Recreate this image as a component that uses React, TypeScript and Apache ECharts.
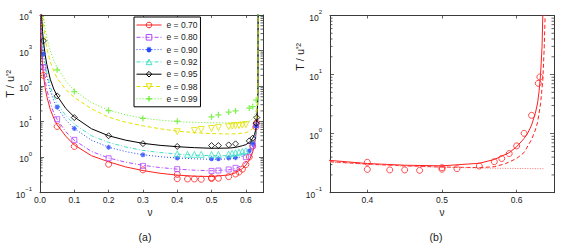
import React, { useEffect, useRef } from "react";
import * as echarts from "echarts";

const FONT = "'Liberation Sans', Arial, Helvetica, sans-serif";
const TXT = "#1a1a1a";
const AXIS = "#3a3a3a";

// ---------- panel (a) ----------
const seriesNames = ["e = 0.70", "e = 0.80", "e = 0.90", "e = 0.92", "e = 0.95", "e = 0.98", "e = 0.99"];
const seriesColors = ["#ff2020", "#b24cff", "#2448ff", "#40e0c4", "#000000", "#e2e200", "#62ee26"];

// theory curves (shared v grid)
const curveV = [0.001, 0.002, 0.003, 0.005, 0.0075, 0.01, 0.015, 0.02, 0.03, 0.04, 0.05, 0.075, 0.1, 0.15, 0.2, 0.25, 0.3, 0.35, 0.4, 0.45, 0.5, 0.55, 0.57, 0.59, 0.6, 0.61, 0.615, 0.62, 0.625, 0.628, 0.63, 0.632, 0.634, 0.635, 0.636];
const curve070 = [20000, 5000, 2250, 810, 360, 205, 90, 50, 22, 12.5, 8.1, 3.9, 2.2, 1.1, 0.74, 0.53, 0.42, 0.352, 0.312, 0.292, 0.285, 0.315, 0.365, 0.475, 0.6, 0.83, 1.03, 1.4, 2.2, 3.3, 5.2, 10, 30, 100, 20000];
const curve080 = [42800, 10000, 4250, 1460, 620, 340, 145, 79, 33.5, 18, 11.5, 5.2, 3.0, 1.45, 0.95, 0.72, 0.59, 0.51, 0.46, 0.43, 0.415, 0.44, 0.48, 0.6, 0.72, 0.95, 1.18, 1.55, 2.3, 3.2, 4.8, 8.5, 24, 70, 20000];
const curve090 = [113000, 25500, 10600, 3550, 1490, 800, 335, 180, 73, 39, 25, 11.2, 6.4, 3.0, 1.9, 1.43, 1.17, 1.03, 0.95, 0.9, 0.87, 0.89, 0.93, 1.05, 1.15, 1.38, 1.6, 2.0, 2.8, 3.8, 5.5, 9, 22, 60, 20000];
const curve092 = [166000, 36600, 15200, 4980, 2060, 1100, 455, 243, 96, 51, 33, 14.8, 8.5, 4.0, 2.6, 1.93, 1.55, 1.35, 1.22, 1.14, 1.1, 1.1, 1.14, 1.27, 1.38, 1.62, 1.85, 2.25, 3.1, 4.1, 5.8, 9.5, 23, 60, 20000];
const curve095 = [300000, 63000, 26000, 8400, 3440, 1850, 760, 400, 155, 83, 53, 23.5, 13.5, 6.3, 4.0, 3.0, 2.45, 2.15, 1.97, 1.85, 1.78, 1.8, 1.88, 2.1, 2.25, 2.6, 2.95, 3.4, 4.3, 5.5, 7.5, 11, 25, 60, 20000];
const curve098 = [900000, 200000, 80000, 26000, 10800, 5730, 2350, 1140, 485, 270, 166, 80, 48, 23, 13.3, 9.6, 7.6, 6.3, 5.4, 4.9, 4.6, 4.5, 4.55, 4.75, 4.9, 5.3, 5.8, 6.5, 8, 9.5, 12, 17, 35, 90, 20000];
const curve099 = [1200000, 280000, 120000, 41000, 17800, 9700, 4130, 2260, 964, 530, 330, 141, 75, 34, 21, 15.5, 12.5, 11, 10, 9.5, 9.3, 9.2, 9.3, 9.5, 9.6, 10.3, 11, 12.5, 15, 18, 22, 30, 55, 130, 20000];
const curves = [curve070, curve080, curve090, curve092, curve095, curve098, curve099];

// measured points
const dataV070 = [0.01, 0.05, 0.1, 0.2, 0.3, 0.4, 0.4, 0.43, 0.45, 0.47, 0.5, 0.5, 0.52, 0.55, 0.57, 0.58, 0.59, 0.6, 0.61, 0.62, 0.629, 0.631];
const dataT070 = [200, 7.3, 2.0, 0.63, 0.44, 0.327, 0.248, 0.243, 0.243, 0.239, 0.265, 0.25, 0.255, 0.283, 0.335, 0.38, 0.46, 0.62, 1.01, 2.04, 7.1, 9.1];
const dataV080 = [0.01, 0.05, 0.1, 0.2, 0.3, 0.4, 0.5, 0.52, 0.55, 0.57, 0.6, 0.62, 0.63];
const dataT080 = [340, 11.7, 3.07, 0.93, 0.57, 0.46, 0.41, 0.42, 0.45, 0.5, 1.0, 2.1, 8];
const dataV090 = [0.01, 0.05, 0.1, 0.2, 0.3, 0.4, 0.5, 0.52, 0.55, 0.57, 0.61, 0.62, 0.63];
const dataT090 = [805, 25.5, 6.4, 1.9, 1.16, 0.94, 0.9, 0.9, 0.95, 0.97, 1.5, 2.4, 7.5];
const dataV092 = [0.4, 0.43, 0.45, 0.47, 0.5, 0.52, 0.55, 0.56, 0.57, 0.58, 0.59, 0.6];
const dataT092 = [1.24, 1.2, 1.2, 1.2, 1.2, 1.2, 1.22, 1.28, 1.33, 1.38, 1.45, 1.52];
const dataV095 = [0.01, 0.05, 0.1, 0.2, 0.3, 0.4, 0.5, 0.52, 0.55, 0.57, 0.61, 0.62, 0.63, 0.632];
const dataT095 = [1870, 53, 13, 4.0, 2.4, 2.0, 2.12, 2.12, 2.22, 2.37, 2.87, 3.42, 9, 13];
const dataV098 = [0.4, 0.45, 0.47, 0.5, 0.52, 0.55, 0.56, 0.57, 0.58, 0.59, 0.6];
const dataT098 = [5.2, 5.6, 6.0, 6.4, 6.8, 7.2, 7.5, 7.7, 7.8, 8.0, 8.2];
const dataV099 = [0.05, 0.1, 0.2, 0.3, 0.4, 0.5, 0.52, 0.55, 0.57, 0.61, 0.62, 0.63];
const dataT099 = [286, 70, 20.5, 12.3, 10.3, 13.6, 15.5, 18.5, 20, 24, 26.5, 40];
const dataV = [dataV070, dataV080, dataV090, dataV092, dataV095, dataV098, dataV099];
const dataT = [dataT070, dataT080, dataT090, dataT092, dataT095, dataT098, dataT099];

// ---------- panel (b), e = 0.70 ----------
const bDashV = [0.35, 0.4, 0.45, 0.5, 0.55, 0.57, 0.585, 0.6, 0.61, 0.62, 0.625, 0.628, 0.632, 0.635, 0.637, 0.6385];
const bDashT = [0.335, 0.305, 0.285, 0.272, 0.266, 0.275, 0.31, 0.38, 0.48, 0.8, 1.15, 1.55, 3.2, 8, 30, 150];
const bDotV = [0.35, 0.4, 0.45, 0.5, 0.55, 0.6, 0.637];
const bDotT = [0.33, 0.303, 0.283, 0.27, 0.262, 0.257, 0.255];

// tick labels
const xTicksA = ["0.0", "0.1", "0.2", "0.3", "0.4", "0.5", "0.6"];
const xTicksB = ["0.4", "0.5", "0.6"];

const PLUS = "path://M5,0L5,10M0,5L10,5";
const STAR = "path://M5,0L5,10M0,5L10,5M1.6,1.6L8.4,8.4M8.4,1.6L1.6,8.4";
const symbols = ["circle", "rect", STAR, "triangle", "diamond", "triangle", PLUS];
const symbolRot = [0, 0, 0, 0, 0, 180, 0];
const symbolSizes = [6, 5, 5, 6, 6, 6, 6];
const dashTypes: any[] = ["solid", [4, 2, 1, 2], [1, 2], [4, 2, 1, 2], "solid", [4, 2.5], [1, 2]];

function markerStyle(i: number) {
  const c = seriesColors[i];
  const stroked = symbols[i] === PLUS || symbols[i] === STAR;
  return {
    color: "rgba(255,255,255,0)",
    borderColor: c,
    borderWidth: stroked ? 1.2 : 1,
  };
}

function zip(a: number[], b: number[]) {
  return a.map((v, i) => [v, b[i]]);
}

function minorTicks(loExp: number, hiExp: number) {
  const out: number[] = [];
  for (let e = loExp; e < hiExp; e++) {
    for (let k = 2; k <= 9; k++) out.push(k * Math.pow(10, e));
  }
  return out;
}

function minorTickSeries(xi: number, yi: number, xMin: number, xMax: number, ticks: number[]) {
  return {
    type: "custom",
    xAxisIndex: xi,
    yAxisIndex: yi,
    silent: true,
    clip: false,
    z: 10,
    data: ticks.map((t) => [xMin, t]),
    encode: { x: 0, y: 1 },
    renderItem: (_p: any, api: any) => {
      const y = api.value(1);
      const l = api.coord([xMin, y]);
      const r = api.coord([xMax, y]);
      const st = { stroke: AXIS, lineWidth: 0.8 };
      return {
        type: "group",
        children: [
          { type: "line", shape: { x1: l[0], y1: l[1], x2: l[0] + 2.5, y2: l[1] }, style: st },
          { type: "line", shape: { x1: r[0] - 2.5, y1: r[1], x2: r[0], y2: r[1] }, style: st },
        ],
      };
    },
  };
}

const supFmt = (v: number) => {
  const p = Math.round(Math.log10(v));
  return "{b|10}{s|" + (p < 0 ? "\u2212" + -p : String(p)) + "}";
};
const yRich = {
  b: { fontSize: 8.5, fontFamily: FONT, color: TXT, lineHeight: 13, verticalAlign: "bottom" },
  s: { fontSize: 6, fontFamily: FONT, color: TXT, lineHeight: 6, verticalAlign: "top" },
};

function xAxisPair(grid: number, min: number, max: number, labels: string[], extra: any) {
  const fmt = (v: number) => {
    const s = v.toFixed(1);
    return Math.abs(v * 10 - Math.round(v * 10)) < 1e-6 && labels.indexOf(s) >= 0 ? s : "";
  };
  const base = {
    gridIndex: grid,
    type: "value",
    min,
    max,
    splitLine: { show: false },
    axisLine: { show: true, onZero: false, lineStyle: { color: AXIS, width: 1 } },
    axisTick: { show: true, inside: true, length: 3, lineStyle: { color: AXIS, width: 0.8 } },
    ...extra,
  };
  return [
    { ...base, position: "bottom", axisLabel: { formatter: fmt, fontSize: 8.5, fontFamily: FONT, color: TXT, margin: 3 } },
    { ...base, position: "top", axisLabel: { show: false } },
  ];
}

function yAxisPair(grid: number, min: number, max: number) {
  const base = {
    gridIndex: grid,
    type: "log",
    logBase: 10,
    min,
    max,
    splitLine: { show: false },
    minorTick: { show: false },
    axisLine: { show: true, onZero: false, lineStyle: { color: AXIS, width: 1 } },
    axisTick: { show: true, inside: true, length: 4, lineStyle: { color: AXIS, width: 0.8 } },
  };
  return [
    { ...base, position: "left", axisLabel: { formatter: supFmt, rich: yRich, margin: 8 } },
    { ...base, position: "right", axisLabel: { show: false } },
  ];
}

function buildOption() {
  const series: any[] = [];
  // panel (a): theory lines first (legend icons), then data
  seriesNames.forEach((name, i) => {
    series.push({
      type: "line",
      name,
      xAxisIndex: 0,
      yAxisIndex: 0,
      data: zip(curveV, curves[i]),
      showSymbol: false,
      symbol: symbols[i],
      symbolRotate: symbolRot[i],
      symbolSize: symbolSizes[i],
      itemStyle: markerStyle(i),
      lineStyle: { color: seriesColors[i], width: 1, type: dashTypes[i] },
      silent: true,
      z: 3,
    });
  });
  seriesNames.forEach((name, i) => {
    series.push({
      type: "scatter",
      name,
      xAxisIndex: 0,
      yAxisIndex: 0,
      data: zip(dataV[i], dataT[i]),
      symbol: symbols[i],
      symbolRotate: symbolRot[i],
      symbolSize: symbolSizes[i],
      itemStyle: markerStyle(i),
      silent: true,
      z: 4,
    });
  });
  // panel (b)
  series.push({
    type: "line", name: "b-full", xAxisIndex: 2, yAxisIndex: 2,
    data: zip(curveV, curve070), showSymbol: false, silent: true,
    lineStyle: { color: seriesColors[0], width: 1, type: "solid" },
  });
  series.push({
    type: "line", name: "b-dash", xAxisIndex: 2, yAxisIndex: 2,
    data: zip(bDashV, bDashT), showSymbol: false, silent: true,
    lineStyle: { color: seriesColors[0], width: 1, type: [4, 2.5] },
  });
  series.push({
    type: "line", name: "b-dot", xAxisIndex: 2, yAxisIndex: 2,
    data: zip(bDotV, bDotT), showSymbol: false, silent: true,
    lineStyle: { color: "#ff7070", width: 1, type: [1, 1.5] },
  });
  series.push({
    type: "scatter", name: "b-data", xAxisIndex: 2, yAxisIndex: 2,
    data: zip(dataV070, dataT070), symbol: "circle", symbolSize: 6, silent: true,
    itemStyle: markerStyle(0), z: 4,
  });
  series.push(minorTickSeries(0, 0, 0, 0.65, minorTicks(-1, 4)));
  series.push(minorTickSeries(2, 2, 0.35, 0.65, minorTicks(-1, 2)));

  const textStyle = (fs: number) => ({ fontSize: fs, fontFamily: FONT, fill: TXT, align: "center", verticalAlign: "middle" });

  return {
    animation: false,
    backgroundColor: "#ffffff",
    grid: [
      { left: 40, top: 15, width: 223, height: 177.7 },
      { left: 330, top: 15.5, width: 224, height: 177.2 },
    ],
    xAxis: [
      ...xAxisPair(0, 0, 0.65, xTicksA, { interval: 0.1 }),
      ...xAxisPair(1, 0.35, 0.65, xTicksB, { splitNumber: 3 }),
    ],
    yAxis: [...yAxisPair(0, 0.1, 10000), ...yAxisPair(1, 0.1, 100)],
    legend: {
      data: seriesNames.map((name, i) => ({
        name,
        itemStyle: markerStyle(i),
        lineStyle: { color: seriesColors[i], width: 1, type: dashTypes[i] },
      })),
      orient: "vertical",
      left: 134,
      top: 17,
      itemWidth: 25,
      itemHeight: 7,
      itemGap: 2.3,
      padding: [3, 3, 3, 2],
      borderColor: "#000",
      borderWidth: 1,
      backgroundColor: "#fff",
      selectedMode: false,
      lineStyle: { width: 1 },
      textStyle: { fontSize: 8.5, fontFamily: FONT, color: TXT, lineHeight: 10 },
      z: 20,
    },
    graphic: [
      { type: "text", x: 10, y: 84, rotation: Math.PI / 2, style: { text: "T / u'\u00b2", ...textStyle(11) } },
      { type: "text", x: 300, y: 57, rotation: Math.PI / 2, style: { text: "T / u'\u00b2", ...textStyle(11) } },
      { type: "text", x: 150, y: 212.5, style: { text: "\u03bd", ...textStyle(10) } },
      { type: "text", x: 442, y: 212.5, style: { text: "\u03bd", ...textStyle(10) } },
      { type: "text", x: 145, y: 237, style: { text: "(a)", ...textStyle(10.5) } },
      { type: "text", x: 436, y: 237, style: { text: "(b)", ...textStyle(10.5) } },
    ],
    series,
  };
}

export default function App() {
  const ref = useRef<HTMLDivElement>(null);
  useEffect(() => {
    if (!ref.current) return;
    const chart = echarts.init(ref.current, null as any, { renderer: "svg" });
    chart.setOption(buildOption() as any);
    return () => chart.dispose();
  }, []);
  return (
    <div
      ref={ref}
      style={{ position: "fixed", left: 0, top: 0, width: 581, height: 245, background: "#fff" }}
    />
  );
}
